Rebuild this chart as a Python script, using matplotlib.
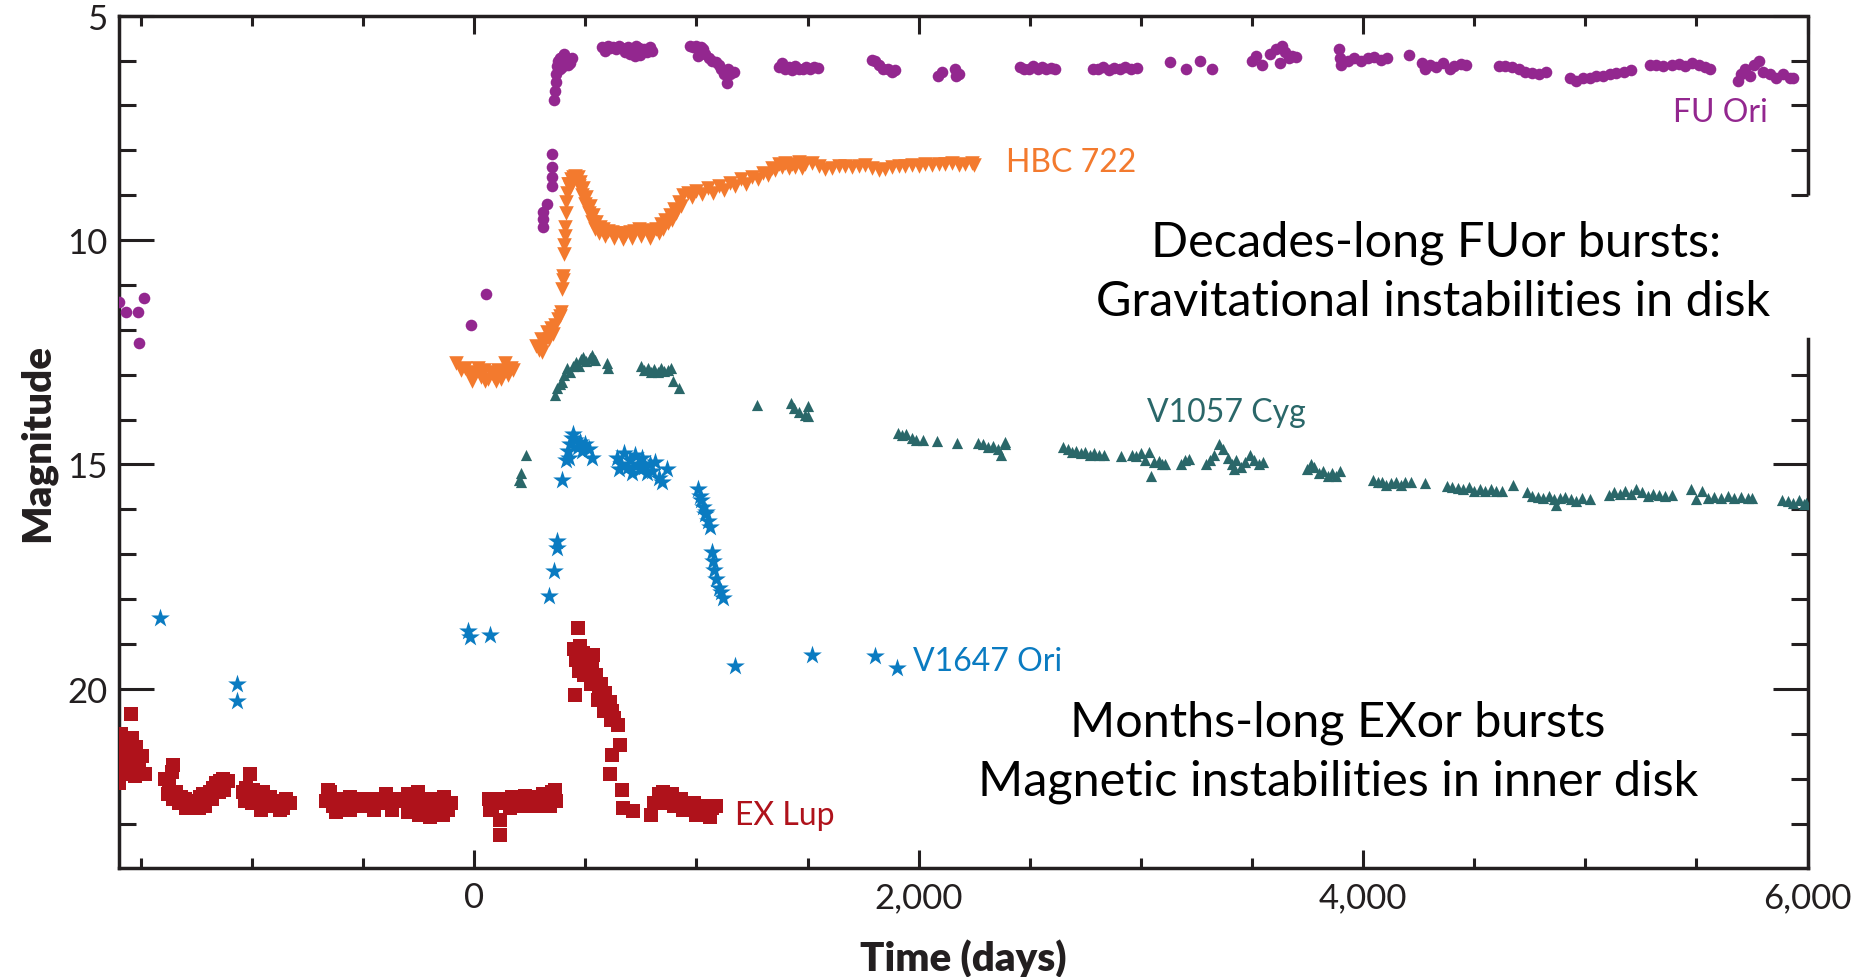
import numpy as np
import matplotlib
matplotlib.use('Agg')
import matplotlib.pyplot as plt
from matplotlib.ticker import FixedLocator, StrMethodFormatter
from matplotlib.transforms import blended_transform_factory

# light curves: (time in days, magnitude)
fu_ori = np.array([
    (-1597, 11.38), (-1566, 11.6), (-1512, 11.6), (-1486, 11.3), (-1508, 12.29),
    (-13, 11.9), (52, 11.2),
    (309, 9.7), (309, 9.53), (311, 9.37), (326, 9.19), (349, 8.79), (349, 8.59), (352, 8.37), (352, 8.08),
    (361, 6.89), (363, 6.67), (366, 6.48), (370, 6.3), (372, 6.12), (378, 6.0), (388, 5.95), (398, 5.9),
    (406, 5.85), (412, 5.98), (420, 6.1), (430, 6.05), (440, 5.95), (395, 6.15), (385, 6.2),
    (574, 5.7), (588, 5.78), (600, 5.68), (612, 5.72), (625, 5.7), (640, 5.75), (652, 5.68), (665, 5.72),
    (678, 5.8), (690, 5.7), (702, 5.85), (715, 5.78), (728, 5.68), (740, 5.72), (752, 5.82), (765, 5.75),
    (778, 5.8), (790, 5.7), (800, 5.78), (722, 5.9), (745, 5.88),
    (970, 5.68), (985, 5.7), (998, 5.68), (1010, 5.72), (1020, 5.7), (1030, 5.75), (1009, 5.89), (1040, 5.85),
    (1055, 5.95), (1070, 6.0), (1087, 6.04), (1100, 6.1), (1112, 6.2), (1122, 6.3), (1137, 6.5), (1150, 6.3),
    (1167, 6.25), (1140, 6.2),
    (1371, 6.15), (1387, 6.05), (1400, 6.2), (1415, 6.15), (1430, 6.22), (1445, 6.12), (1460, 6.18),
    (1478, 6.2), (1495, 6.14), (1510, 6.18), (1530, 6.15), (1546, 6.17),
    (1790, 5.98), (1805, 6.02), (1820, 6.1), (1840, 6.2), (1860, 6.18), (1880, 6.25), (1893, 6.22),
    (2087, 6.35), (2105, 6.25), (2165, 6.2), (2170, 6.35), (2181, 6.3),
    (2455, 6.15), (2475, 6.2), (2495, 6.18), (2515, 6.12), (2535, 6.18), (2555, 6.15), (2575, 6.2),
    (2595, 6.17), (2613, 6.18),
    (2784, 6.18), (2805, 6.2), (2830, 6.15), (2855, 6.22), (2880, 6.17), (2905, 6.2), (2930, 6.15),
    (2955, 6.18), (2982, 6.17),
    (3131, 6.04), (3202, 6.19), (3267, 6.02), (3321, 6.19),
    (3499, 6.0), (3520, 5.9), (3545, 6.1), (3580, 5.85), (3610, 5.75), (3633, 5.67), (3650, 5.8),
    (3665, 5.95), (3680, 5.9), (3697, 5.92), (3625, 6.05),
    (3890, 5.74), (3895, 5.95), (3900, 6.1), (3930, 6.0), (3960, 5.95), (3990, 6.0), (4020, 5.95),
    (4050, 5.92), (4080, 5.98), (4107, 5.95),
    (4206, 5.87), (4264, 6.05), (4280, 6.2), (4300, 6.1), (4330, 6.15), (4360, 6.05), (4390, 6.2),
    (4410, 6.12), (4440, 6.08), (4462, 6.1),
    (4611, 6.12), (4640, 6.12), (4670, 6.15), (4700, 6.2), (4730, 6.25), (4760, 6.28), (4790, 6.3),
    (4822, 6.25),
    (4930, 6.4), (4960, 6.45), (4990, 6.4), (5020, 6.38), (5050, 6.35), (5080, 6.35), (5110, 6.3),
    (5140, 6.28), (5175, 6.25), (5206, 6.22),
    (5290, 6.1), (5320, 6.1), (5350, 6.12), (5390, 6.1), (5420, 6.08), (5450, 6.12), (5480, 6.05),
    (5510, 6.1), (5540, 6.15), (5561, 6.18),
    (5687, 6.45), (5700, 6.3), (5720, 6.2), (5740, 6.35), (5760, 6.1), (5780, 6.0), (5800, 6.25),
    (5830, 6.3), (5860, 6.38), (5890, 6.3), (5920, 6.4), (5935, 6.4),
])

hbc_722 = np.array([
    (-80, 12.75), (-60, 12.9), (-40, 12.85), (-20, 13.0), (0, 12.95), (15, 12.85), (30, 13.05), (45, 12.9),
    (60, 13.1), (75, 12.95), (90, 13.05), (105, 12.9), (120, 13.1), (135, 12.95), (150, 13.0),
    (165, 12.85), (176, 12.9), (-10, 13.15), (50, 13.15), (100, 13.15), (140, 12.75),
    (280, 12.35), (290, 12.45), (300, 12.2), (305, 12.5), (315, 12.3), (326, 12.05), (335, 12.2),
    (345, 11.95), (355, 12.1), (365, 11.9), (376, 11.75), (385, 11.7), (390, 11.6), (396, 11.1),
    (398, 10.9), (400, 10.8), (404, 10.3), (406, 10.1), (408, 9.9), (410, 9.7), (412, 9.4), (414, 9.15),
    (418, 8.95), (425, 8.75), (435, 8.65), (445, 8.6), (455, 8.58), (465, 8.6), (475, 8.7), (490, 8.85),
    (505, 9.05), (520, 9.25), (535, 9.45), (550, 9.6), (565, 9.7), (580, 9.75), (600, 9.8), (620, 9.82),
    (640, 9.85), (660, 9.85), (680, 9.88), (700, 9.82), (720, 9.8), (740, 9.75), (760, 9.8), (780, 9.78),
    (800, 9.82), (820, 9.75), (840, 9.65), (860, 9.55), (880, 9.45), (900, 9.3), (920, 9.15), (940, 9.0),
    (420, 8.75), (430, 8.85), (470, 8.8), (485, 9.0), (500, 9.2), (515, 9.4), (530, 9.6), (545, 9.75),
    (560, 9.85), (590, 9.9), (630, 9.95), (670, 9.98), (710, 9.95), (750, 9.92), (790, 9.95),
    (830, 9.85), (850, 9.75), (870, 9.62), (890, 9.55), (910, 9.4), (930, 9.25),
    (960, 8.95), (1000, 8.9), (1050, 8.85), (1100, 8.8), (1150, 8.72), (1200, 8.65), (1250, 8.6),
    (980, 9.05), (1025, 8.98), (1075, 8.95), (1125, 8.88), (1175, 8.8), (1225, 8.75), (1275, 8.65),
    (1300, 8.5), (1340, 8.4), (1370, 8.3), (1400, 8.28), (1430, 8.3), (1460, 8.27), (1490, 8.3),
    (1320, 8.55), (1355, 8.45), (1385, 8.38), (1415, 8.4), (1445, 8.38), (1475, 8.4),
    (1520, 8.28), (1550, 8.35), (1580, 8.42), (1610, 8.4), (1640, 8.36), (1670, 8.35), (1700, 8.38),
    (1730, 8.35), (1760, 8.33), (1790, 8.4), (1820, 8.45), (1850, 8.42), (1880, 8.38), (1910, 8.35),
    (1940, 8.35), (1970, 8.32), (2000, 8.35), (2030, 8.3), (2060, 8.33), (2090, 8.3), (2120, 8.3),
    (2150, 8.28), (2180, 8.32), (2210, 8.3), (2240, 8.28), (2250, 8.32),
])

v1057_cyg = np.array([
    (203, 15.35), (210, 15.2), (212, 15.4), (232, 14.8),
    (362, 13.46), (372, 13.3), (385, 13.2), (394, 13.16), (405, 13.0), (419, 12.86), (430, 12.95),
    (445, 12.8), (458, 12.71), (470, 12.8), (480, 12.65), (491, 12.6), (505, 12.7), (520, 12.62),
    (531, 12.57), (545, 12.68), (597, 12.75), (600, 12.85),
    (750, 12.8), (765, 12.9), (780, 12.85), (795, 12.95), (810, 12.88), (825, 12.95), (840, 12.85),
    (855, 12.92), (870, 12.9), (885, 12.85), (895, 13.13), (922, 13.3),
    (1274, 13.68), (1425, 13.64), (1440, 13.75), (1460, 13.82), (1490, 13.9), (1504, 13.7), (1500, 13.93),
    (1907, 14.3), (1925, 14.35), (1945, 14.32), (1970, 14.4), (1990, 14.45), (2019, 14.45), (2082, 14.47),
    (2172, 14.53), (2266, 14.52), (2290, 14.55), (2310, 14.6), (2335, 14.58), (2355, 14.65),
    (2370, 14.8), (2388, 14.55), (2390, 14.49),
    (2650, 14.6), (2670, 14.65), (2690, 14.72), (2710, 14.7), (2730, 14.75), (2750, 14.72),
    (2770, 14.78), (2790, 14.75), (2810, 14.8), (2834, 14.78), (2910, 14.82),
    (2961, 14.78), (2980, 14.82), (3000, 14.75), (3020, 14.9), (3045, 15.25), (3060, 14.95),
    (3080, 14.92), (3095, 15.0), (3110, 14.98), (3035, 14.72),
    (3182, 15.0), (3200, 14.9), (3217, 14.88),
    (3292, 15.0), (3310, 14.9), (3330, 14.8), (3352, 14.55), (3370, 14.65), (3390, 14.85), (3410, 15.0),
    (3430, 14.9), (3450, 15.05), (3470, 14.95), (3490, 14.8), (3510, 14.9), (3530, 15.0), (3549, 14.95),
    (3420, 15.1),
    (3747, 15.1), (3765, 15.0), (3780, 15.05), (3800, 15.2), (3820, 15.15), (3840, 15.25), (3860, 15.2),
    (3880, 15.25), (3896, 15.15),
    (4045, 15.35), (4065, 15.4), (4085, 15.38), (4105, 15.45), (4125, 15.42), (4150, 15.4),
    (4170, 15.45), (4190, 15.4), (4216, 15.38), (4279, 15.42),
    (4378, 15.48), (4400, 15.5), (4425, 15.52), (4450, 15.55), (4475, 15.5), (4500, 15.58),
    (4525, 15.55), (4550, 15.6), (4575, 15.55), (4600, 15.58), (4626, 15.6), (4675, 15.45),
    (4739, 15.62), (4760, 15.7), (4785, 15.72), (4810, 15.75), (4835, 15.7), (4860, 15.78),
    (4885, 15.75), (4910, 15.72), (4935, 15.78), (4960, 15.82), (4985, 15.75), (5022, 15.78), (4870, 15.9),
    (5107, 15.68), (5130, 15.62), (5155, 15.65), (5180, 15.6), (5205, 15.65), (5230, 15.55),
    (5255, 15.62), (5280, 15.7), (5305, 15.65), (5330, 15.68), (5360, 15.7), (5390, 15.68),
    (5475, 15.55), (5500, 15.78), (5525, 15.6), (5550, 15.75), (5580, 15.72), (5610, 15.75),
    (5640, 15.7), (5670, 15.75), (5700, 15.72), (5730, 15.75), (5750, 15.75),
    (5884, 15.8), (5910, 15.82), (5935, 15.85), (5960, 15.8), (5985, 15.88), (5994, 15.85),
])

v1647_ori = np.array([
    (-1415, 18.43), (-1068, 19.88), (-1068, 20.28), (-27, 18.7), (-20, 18.85), (69, 18.8),
    (338, 17.93), (358, 17.38), (371, 16.87), (371, 16.7), (394, 15.35),
    (412, 14.9), (420, 14.7), (430, 14.55), (440, 14.4), (446, 14.31), (455, 14.45), (465, 14.6),
    (475, 14.5), (485, 14.7), (500, 14.55), (515, 14.65), (530, 14.85), (425, 14.85),
    (644, 14.85), (650, 15.1), (660, 15.0), (675, 14.75), (690, 15.05), (700, 14.9), (712, 15.2),
    (725, 14.8), (735, 15.0), (745, 15.1), (755, 14.85), (765, 15.05), (778, 15.2), (790, 15.0),
    (800, 15.15), (815, 14.95), (830, 15.3), (845, 15.4), (869, 15.1),
    (1006, 15.55), (1015, 15.7), (1020, 15.8), (1030, 15.95), (1040, 16.1), (1050, 16.25),
    (1060, 16.4), (1045, 16.05),
    (1070, 16.95), (1075, 17.15), (1080, 17.35), (1090, 17.55), (1100, 17.75), (1110, 17.85), (1118, 17.98),
    (1173, 19.49), (1522, 19.24), (1803, 19.27), (1902, 19.54),
])

ex_lup = np.array([
    (-1545, 20.56), (-1590, 21.0), (-1570, 21.2), (-1555, 21.4), (-1540, 21.1), (-1520, 21.3),
    (-1600, 21.6), (-1585, 21.8), (-1560, 21.7), (-1535, 21.55), (-1510, 21.75), (-1495, 21.5),
    (-1480, 21.9), (-1600, 22.1), (-1545, 21.9), (-1500, 21.9), (-1580, 21.45), (-1525, 21.95),
    (-1390, 22.0), (-1375, 22.15), (-1360, 21.85), (-1340, 22.3), (-1320, 22.4), (-1300, 22.45),
    (-1280, 22.6), (-1265, 22.5), (-1250, 22.5), (-1235, 22.4), (-1220, 22.35), (-1205, 22.45),
    (-1190, 22.3), (-1175, 22.2), (-1160, 22.1), (-1145, 22.05), (-1130, 22.0), (-1110, 22.05),
    (-1380, 22.35), (-1355, 22.45), (-1330, 22.55), (-1295, 22.65), (-1240, 22.65), (-1210, 22.6),
    (-1180, 22.45), (-1150, 22.3), (-1125, 22.25), (-1355, 21.7),
    (-1040, 22.3), (-1025, 22.2), (-1010, 21.9), (-995, 22.25), (-980, 22.4), (-965, 22.45),
    (-950, 22.3), (-935, 22.55), (-920, 22.4), (-905, 22.6), (-890, 22.5), (-875, 22.7),
    (-860, 22.65), (-845, 22.45), (-830, 22.55), (-1000, 22.55), (-1030, 22.5), (-960, 22.7),
    (-665, 22.5), (-650, 22.3), (-635, 22.6), (-620, 22.45), (-600, 22.7), (-580, 22.5), (-560, 22.4),
    (-540, 22.55), (-520, 22.5), (-500, 22.45), (-480, 22.55), (-460, 22.5), (-440, 22.45),
    (-420, 22.5), (-400, 22.55), (-380, 22.5), (-360, 22.45), (-590, 22.55), (-510, 22.6),
    (-660, 22.25), (-620, 22.75), (-560, 22.7), (-450, 22.7), (-395, 22.35), (-370, 22.7),
    (-315, 22.5), (-300, 22.35), (-285, 22.6), (-270, 22.5), (-255, 22.3), (-240, 22.7), (-225, 22.55),
    (-210, 22.65), (-195, 22.45), (-180, 22.75), (-165, 22.5), (-150, 22.6), (-135, 22.4),
    (-120, 22.7), (-105, 22.55), (-250, 22.8), (-300, 22.75), (-200, 22.85), (-140, 22.8),
    (65, 22.45), (80, 22.6), (95, 22.5), (110, 22.55), (115, 22.92), (115, 23.25), (130, 22.45),
    (150, 22.5), (170, 22.4), (190, 22.5), (210, 22.45), (230, 22.38), (250, 22.45), (270, 22.4),
    (290, 22.42), (310, 22.35), (330, 22.4), (350, 22.3), (365, 22.25), (370, 22.5),
    (70, 22.7), (160, 22.65), (220, 22.6), (280, 22.6), (340, 22.6),
    (466, 18.65), (453, 20.14), (450, 19.1), (460, 19.35), (475, 19.05), (480, 19.3), (490, 19.2),
    (500, 19.45), (510, 19.3), (520, 19.6), (530, 19.55), (540, 19.8), (550, 19.7), (560, 20.0),
    (570, 19.9), (580, 20.2), (590, 20.1), (600, 20.35), (610, 20.3), (620, 20.5), (630, 20.65),
    (470, 19.6), (495, 19.7), (525, 19.9), (555, 20.25), (585, 20.5), (615, 20.7), (535, 19.25),
    (646, 20.81), (655, 21.25), (618, 21.47), (610, 21.9), (664, 22.25), (669, 22.65), (714, 22.72),
    (795, 22.8), (810, 22.55), (830, 22.35), (850, 22.3), (870, 22.4), (890, 22.35), (910, 22.5),
    (930, 22.45), (950, 22.55), (970, 22.6), (990, 22.55), (1010, 22.7), (1030, 22.6), (1050, 22.7),
    (1070, 22.65), (1090, 22.6), (900, 22.6), (1000, 22.8), (860, 22.55), (940, 22.7), (1060, 22.85),
])

series = [
    ('EX Lup', ex_lup, 's', 95, '#AF121B'),
    ('V1647 Ori', v1647_ori, '*', 200, '#0A7BC1'),
    ('V1057 Cyg', v1057_cyg, '^', 65, '#2A6769'),
    ('HBC 722', hbc_722, 'v', 110, '#F37A2E'),
    ('FU Ori', fu_ori, 'o', 70, '#93278F'),
]

# where each star's name sits: (day, magnitude, alignment)
name_pos = {
    'FU Ori': (5820, 7.14, 'right'),
    'HBC 722': (2392, 8.27, 'left'),
    'V1057 Cyg': (3027, 13.84, 'left'),
    'V1647 Ori': (1975, 19.38, 'left'),
    'EX Lup': (1175, 22.81, 'left'),
}

body = ['Lato', 'DejaVu Sans']
ink = '#231F20'

fig = plt.figure(figsize=(18.6, 9.78), dpi=100)
ax = fig.add_axes([0.0638, 0.111, 0.908, 0.872])

for name, pts, mk, size, col in series:
    ax.scatter(pts[:, 0], pts[:, 1], marker=mk, s=size, color=col, linewidths=0, zorder=3)
    px, py, ha = name_pos[name]
    ax.text(px, py, name, color=col, fontsize=23, family=body, ha=ha, va='center')

ax.text(4330, 10.04, 'Decades-long FUor bursts:', fontsize=35, family=body, ha='center', va='center')
ax.text(4315, 11.35, 'Gravitational instabilities in disk', fontsize=35, family=body, ha='center', va='center')
ax.text(3887, 20.73, 'Months-long EXor bursts', fontsize=35, family=body, ha='center', va='center')
ax.text(3887, 22.05, 'Magnetic instabilities in inner disk', fontsize=35, family=body, ha='center', va='center')

ax.set_xlim(-1600, 6000)
ax.set_ylim(24, 5)

ax.xaxis.set_major_locator(FixedLocator([0, 2000, 4000, 6000]))
ax.xaxis.set_minor_locator(FixedLocator([-1500, -1000, -500, 500, 1000, 1500, 2500, 3000, 3500,
                                         4500, 5000, 5500]))
ax.xaxis.set_major_formatter(StrMethodFormatter('{x:,.0f}'))
y_minor = [6, 7, 8, 9, 11, 12, 13, 14, 16, 17, 18, 19, 21, 22, 23]
ax.yaxis.set_major_locator(FixedLocator([5, 10, 15, 20]))
ax.yaxis.set_minor_locator(FixedLocator(y_minor))

ax.tick_params(axis='both', which='both', direction='in', top=True, right=True, colors=ink)
ax.tick_params(axis='x', which='major', length=13, width=2.2, pad=9)
ax.tick_params(axis='x', which='minor', length=7, width=2.2)
ax.tick_params(axis='y', which='major', length=25, width=2.2, pad=8)
ax.tick_params(axis='y', which='minor', length=12.5, width=2.2)
for lab in ax.get_xticklabels() + ax.get_yticklabels():
    lab.set_fontfamily(body)
    lab.set_fontsize(25)
    lab.set_color(ink)

for sp in ax.spines.values():
    sp.set_linewidth(2.5)
    sp.set_color(ink)

# right spine is interrupted behind the FUor caption
ax.spines['right'].set_bounds(24, 12.2)
trans = blended_transform_factory(ax.transAxes, ax.transData)
ax.plot([1, 1], [5, 9], transform=trans, color=ink, lw=2.5, clip_on=False, solid_capstyle='butt')
ax.yaxis.get_major_ticks(4)[1].tick2line.set_visible(False)
minor_ticks = ax.yaxis.get_minor_ticks(len(y_minor))
for i, v in enumerate(y_minor):
    if 9 < v < 12.2:
        minor_ticks[i].tick2line.set_visible(False)

ax.set_ylabel('Magnitude', fontsize=29, fontweight='heavy', family=body, color=ink, labelpad=8)
ax.set_xlabel('Time (days)', fontsize=29, fontweight='heavy', family=body, color=ink, labelpad=18)

fig.savefig('out.png', dpi=100)
